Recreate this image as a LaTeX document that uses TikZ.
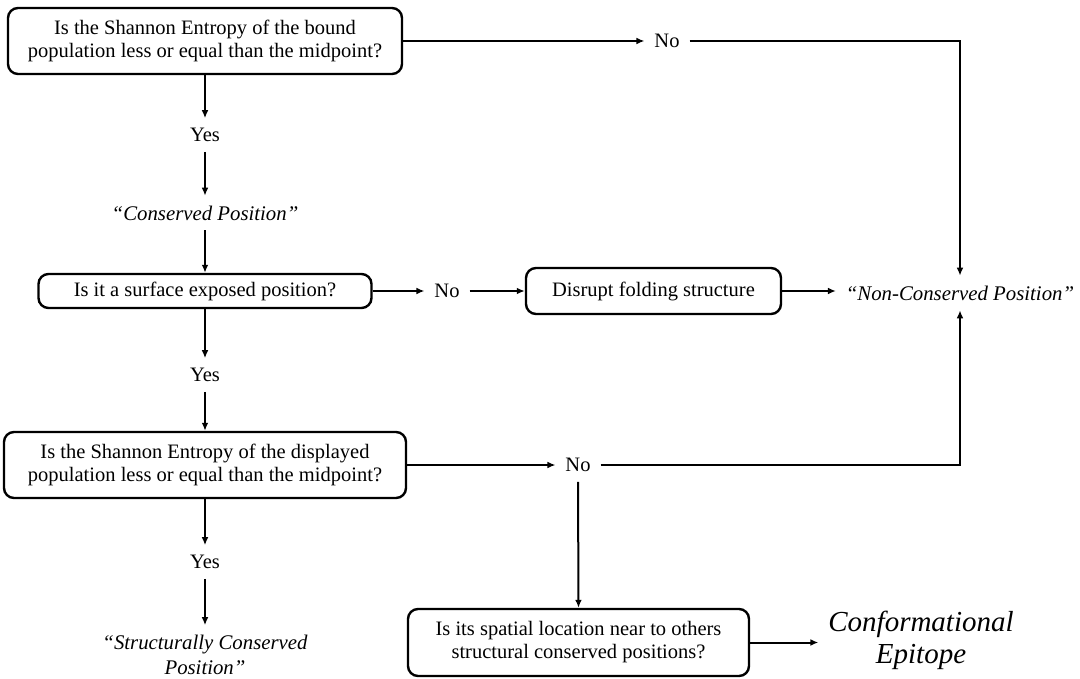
\documentclass[tikz,border=0pt]{standalone}
\usepackage{fontspec}
\setmainfont{Liberation Serif}
\usetikzlibrary{arrows.meta}
\begin{document}
\begin{tikzpicture}[x=0.5pt,y=-0.5pt,
  box/.style={draw, line width=1.2pt, rounded corners=5pt, align=center, inner sep=0pt, font=\fontsize{10.25}{11.5}\selectfont},
  lbl/.style={inner sep=1pt, outer sep=4pt, align=center, font=\fontsize{10.25}{11.5}\selectfont},
  itl/.style={inner sep=1pt, outer sep=4pt, align=center, font=\fontsize{10.4}{12.5}\selectfont\itshape},
  big/.style={inner sep=1pt, outer sep=4pt, align=center, font=\fontsize{14.5}{16}\selectfont\itshape},
  arr/.style={-{Latex[length=4pt,width=3.4pt]}, line width=1pt}]
\fill[white] (0,0) rectangle (1080,679);
\useasboundingbox (0,0) rectangle (1080,679);
% boxes
\node[box, minimum width=197pt, minimum height=33pt] (A) at (205,41) {Is the Shannon Entropy of the bound\\population less or equal than the midpoint?};
\node[box, minimum width=166.5pt, minimum height=17pt] (B) at (205,291) {Is it a surface exposed position?};
\node[box, minimum width=127.5pt, minimum height=23pt] (Dis) at (653.5,291) {Disrupt folding structure};
\node[box, minimum width=201pt, minimum height=33pt] (C) at (205,465) {Is the Shannon Entropy of the displayed\\population less or equal than the midpoint?};
\node[box, minimum width=170.5pt, minimum height=33.5pt] (D) at (578.5,642.5) {Is its spatial location near to others\\structural conserved positions?};
% labels
\node[lbl] (Y1) at (205,135) {Yes};
\node[itl] (Cons) at (205,213) {``Conserved Position''};
\node[lbl] (Y2) at (205,375) {Yes};
\node[lbl] (Y3) at (205,562) {Yes};
\node[itl] (Str) at (205,655) {``Structurally Conserved\\Position''};
\node[lbl] (N1) at (667,41) {No};
\node[lbl] (N2) at (447,291) {No};
\node[lbl] (N3) at (578,465) {No};
\node[itl] (NC) at (960,293) {``Non-Conserved Position''};
\node[big] (CE) at (921,640) {Conformational\\Epitope};
% left column
\draw[arr] (A.south) -- (Y1.north);
\draw[arr] (Y1.south) -- (Cons.north);
\draw[arr] (Cons.south) -- (B.north);
\draw[arr] (B.south) -- (Y2.north);
\draw[arr] (Y2.south) -- (C.north);
\draw[arr] (C.south) -- (Y3.north);
\draw[arr] (Y3.south) -- (Str.north);
% right branches
\draw[arr] (A.east) -- (A.east -| N1.west);
\draw[arr] (N1.east) -| (NC.north);
\draw[arr] (B.east) -- (B.east -| N2.west);
\draw[arr] (N2.east) -- (N2.east -| Dis.west);
\draw[arr] (Dis.east) -- (Dis.east -| NC.west);
\draw[arr] (C.east) -- (C.east -| N3.west);
\draw[arr] (N3.east) -| (NC.south);
\draw[arr] (N3.south) -- (D.north);
\draw[arr] (D.east) -- (D.east -| CE.west);
\end{tikzpicture}
\end{document}
